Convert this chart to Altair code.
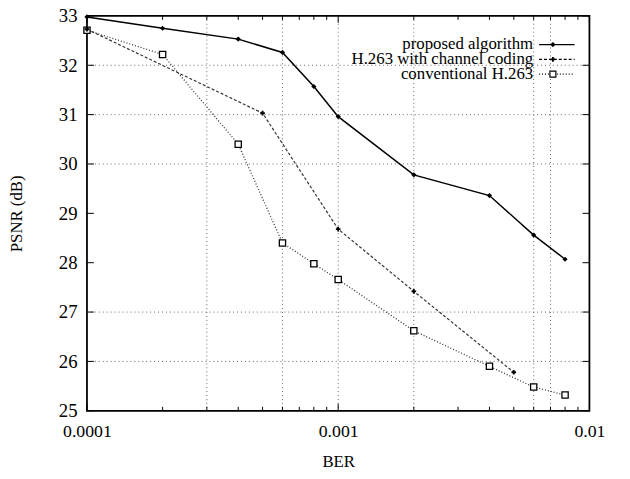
import altair as alt
import pandas as pd

# ---- data ----
ber = [0.0001, 0.0002, 0.0004, 0.0006, 0.0008, 0.001, 0.002, 0.004, 0.006, 0.008]
proposed = [32.98, 32.75, 32.53, 32.26, 31.57, 30.96, 29.78, 29.36, 28.56, 28.07]
conventional = [32.71, 32.22, 30.40, 28.40, 27.98, 27.66, 26.62, 25.90, 25.48, 25.32]
cc_ber = [0.0001, 0.0005, 0.001, 0.002, 0.005]
channel_coding = [32.73, 31.03, 28.68, 27.42, 25.78]

names = ["proposed algorithm", "H.263 with channel coding", "conventional H.263"]

x_tick_values = [0.0001, 0.001, 0.01]
x_minor_ticks = [0.0002, 0.0003, 0.0004, 0.0005, 0.0006, 0.0007, 0.0008, 0.0009,
                 0.002, 0.003, 0.004, 0.005, 0.006, 0.007, 0.008, 0.009]
y_tick_values = [25, 26, 27, 28, 29, 30, 31, 32, 33]
grid_x = [0.0003, 0.0006, 0.001, 0.002, 0.006, 0.007]
grid_y = [26, 27, 30, 31, 32]

W, H = 509, 400
FONT = "Liberation Serif"

xs = alt.Scale(type="log", domain=[0.0001, 0.01], nice=False)
ys = alt.Scale(domain=[25, 33], nice=False, zero=False)

df_p = pd.DataFrame({"ber": ber, "psnr": proposed})
df_c = pd.DataFrame({"ber": ber, "psnr": conventional})
df_cc = pd.DataFrame({"ber": cc_ber, "psnr": channel_coding})
df_gx = pd.DataFrame({"v": grid_x})
df_gy = pd.DataFrame({"v": grid_y})
df_yt = pd.DataFrame({"v": y_tick_values})
df_xt = pd.DataFrame({"v": x_minor_ticks})
df_xM = pd.DataFrame({"v": x_tick_values})
df_leg = pd.DataFrame({"series": names})

X = alt.X("ber:Q", scale=xs, axis=None)
Y = alt.Y("psnr:Q", scale=ys, axis=None)

# main axes carrier (invisible)
axes = alt.Chart(df_p).mark_point(opacity=0).encode(
    x=alt.X("ber:Q", scale=xs, title="BER",
            axis=alt.Axis(values=x_tick_values, format="~g", grid=False, ticks=False,
                          tickSize=0, domain=False, labelFlush=False, labelFontSize=18,
                          labelPadding=12, titleFontSize=17, titlePadding=13)),
    y=alt.Y("psnr:Q", scale=ys, title="PSNR (dB)",
            axis=alt.Axis(values=y_tick_values, format="d", grid=False, ticks=False,
                          tickSize=0, domain=False, labelFontSize=19, labelPadding=10,
                          titleFontSize=17, titlePadding=33)),
)

grid_style = dict(color="#666666", strokeWidth=1, strokeDash=[1, 3])
gx = alt.Chart(df_gx).mark_rule(**grid_style).encode(
    x=alt.X("v:Q", scale=xs, axis=None), y=alt.value(0), y2=alt.value(H))
gy = alt.Chart(df_gy).mark_rule(**grid_style).encode(
    y=alt.Y("v:Q", scale=ys, axis=None), x=alt.value(0), x2=alt.value(W))

tick_style = dict(color="black", strokeWidth=1)
t_left = alt.Chart(df_yt).mark_rule(**tick_style).encode(
    y=alt.Y("v:Q", scale=ys, axis=None), x=alt.value(0), x2=alt.value(7))
t_right = alt.Chart(df_yt).mark_rule(**tick_style).encode(
    y=alt.Y("v:Q", scale=ys, axis=None), x=alt.value(W - 7), x2=alt.value(W))
t_bot = alt.Chart(df_xt).mark_rule(**tick_style).encode(
    x=alt.X("v:Q", scale=xs, axis=None), y=alt.value(H - 4), y2=alt.value(H))
t_top = alt.Chart(df_xt).mark_rule(**tick_style).encode(
    x=alt.X("v:Q", scale=xs, axis=None), y=alt.value(0), y2=alt.value(4))
t_botM = alt.Chart(df_xM).mark_rule(**tick_style).encode(
    x=alt.X("v:Q", scale=xs, axis=None), y=alt.value(H - 7), y2=alt.value(H))
t_topM = alt.Chart(df_xM).mark_rule(**tick_style).encode(
    x=alt.X("v:Q", scale=xs, axis=None), y=alt.value(0), y2=alt.value(7))

l_p = alt.Chart(df_p).mark_line(color="black", strokeWidth=1.5).encode(x=X, y=Y)
p_p = alt.Chart(df_p).mark_point(shape="diamond", filled=True, size=28, color="black", opacity=1).encode(x=X, y=Y)

l_cc = alt.Chart(df_cc).mark_line(color="#333333", strokeWidth=1.2, strokeDash=[3, 2]).encode(x=X, y=Y)
p_cc = alt.Chart(df_cc).mark_point(shape="cross", filled=True, size=22, color="black", opacity=1).encode(x=X, y=Y)

l_c = alt.Chart(df_c).mark_line(color="#333333", strokeWidth=1.3, strokeDash=[1, 2]).encode(x=X, y=Y)
p_c = alt.Chart(df_c).mark_point(shape="square", size=40, fill="white", stroke="black",
                                   strokeWidth=1.3, opacity=1, fillOpacity=1).encode(x=X, y=Y)

# legend (gnuplot style: text right-aligned, sample to the right)
LY = alt.Y("series:N", scale=alt.Scale(type="point", domain=names, range=[29, 59], padding=0),
           axis=None)
leg_text = alt.Chart(df_leg).mark_text(align="right", baseline="middle", font=FONT,
                                       fontSize=17, color="black").encode(
    y=LY, x=alt.value(452), text="series:N")
leg_line = alt.Chart(df_leg).mark_rule(color="black", strokeWidth=1.2).encode(
    y=LY, x=alt.value(458), x2=alt.value(494),
    strokeDash=alt.StrokeDash("series:N", scale=alt.Scale(domain=names, range=[[1, 0], [3, 2], [1, 2]]),
                              legend=None))
leg_p1 = alt.Chart(df_leg).transform_filter(alt.datum.series == names[0]).mark_point(
    shape="diamond", filled=True, size=28, color="black", opacity=1).encode(y=LY, x=alt.value(472))
leg_p2 = alt.Chart(df_leg).transform_filter(alt.datum.series == names[1]).mark_point(
    shape="cross", filled=True, size=22, color="black", opacity=1).encode(y=LY, x=alt.value(472))
leg_p3 = alt.Chart(df_leg).transform_filter(alt.datum.series == names[2]).mark_point(
    shape="square", size=36, fill="white", stroke="black", strokeWidth=1.2, opacity=1,
    fillOpacity=1).encode(y=LY, x=alt.value(472))

chart = alt.layer(
    axes, gx, gy, t_left, t_right, t_bot, t_top, t_botM, t_topM,
    l_c, l_cc, l_p, p_c, p_cc, p_p,
    leg_text, leg_line, leg_p1, leg_p2, leg_p3,
).resolve_scale(y="independent").resolve_axis(x="independent", y="independent").properties(
    width=W, height=H,
    autosize=alt.AutoSizeParams(type="none"),
    padding={"left": 80, "top": 5, "right": 33, "bottom": 58},
    background="white",
).configure_view(
    stroke="black", strokeWidth=1.8
).configure_axis(
    labelFont=FONT, titleFont=FONT, labelColor="black", titleColor="black",
    titleFontWeight="normal"
)

chart.save("out.html", embed_options={"renderer": "svg", "actions": False})
